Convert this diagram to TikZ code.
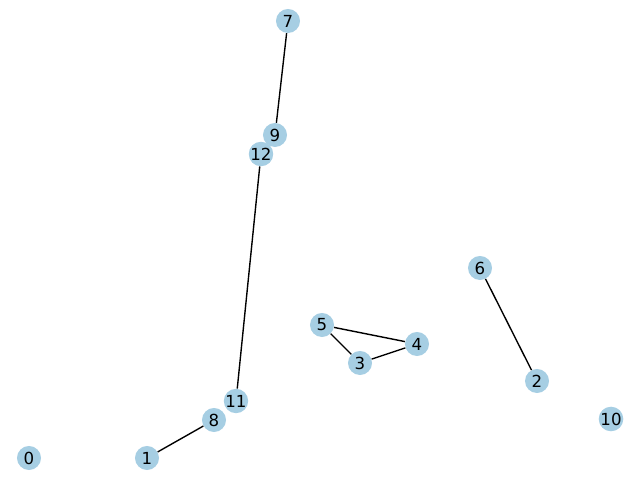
\documentclass[tikz,border=0pt]{standalone}
\usepackage{fontspec}
\setmainfont{DejaVu Sans}
\usepackage{xcolor}
\usepackage{tikz}
\definecolor{nodeblue}{HTML}{A6CEE3}

\begin{document}
\begin{tikzpicture}[
x=0.01in, y=-0.01in,
vertex/.style={circle, fill=nodeblue, inner sep=0pt, minimum size=0.24in, font=\fontsize{12pt}{14pt}\selectfont},
edge/.style={draw=black, line width=1pt}
]
\useasboundingbox (0,0) rectangle (640,480);

\node[vertex] (n0) at (29,458) {0};
\node[vertex] (n1) at (147,458) {1};
\node[vertex] (n2) at (537,381) {2};
\node[vertex] (n3) at (360,363) {3};
\node[vertex] (n4) at (417,344) {4};
\node[vertex] (n5) at (322,325) {5};
\node[vertex] (n6) at (480,268) {6};
\node[vertex] (n7) at (288,21) {7};
\node[vertex] (n8) at (214,420) {8};
\node[vertex] (n9) at (275,135) {9};
\node[vertex] (n10) at (611,419) {10};
\node[vertex] (n11) at (236,401) {11};
\node[vertex] (n12) at (261,154) {12};

\draw[edge] (n7) -- (n9);
\draw[edge] (n12) -- (n11);
\draw[edge] (n8) -- (n1);
\draw[edge] (n5) -- (n4);
\draw[edge] (n5) -- (n3);
\draw[edge] (n3) -- (n4);
\draw[edge] (n6) -- (n2);

\end{tikzpicture}
\end{document}
